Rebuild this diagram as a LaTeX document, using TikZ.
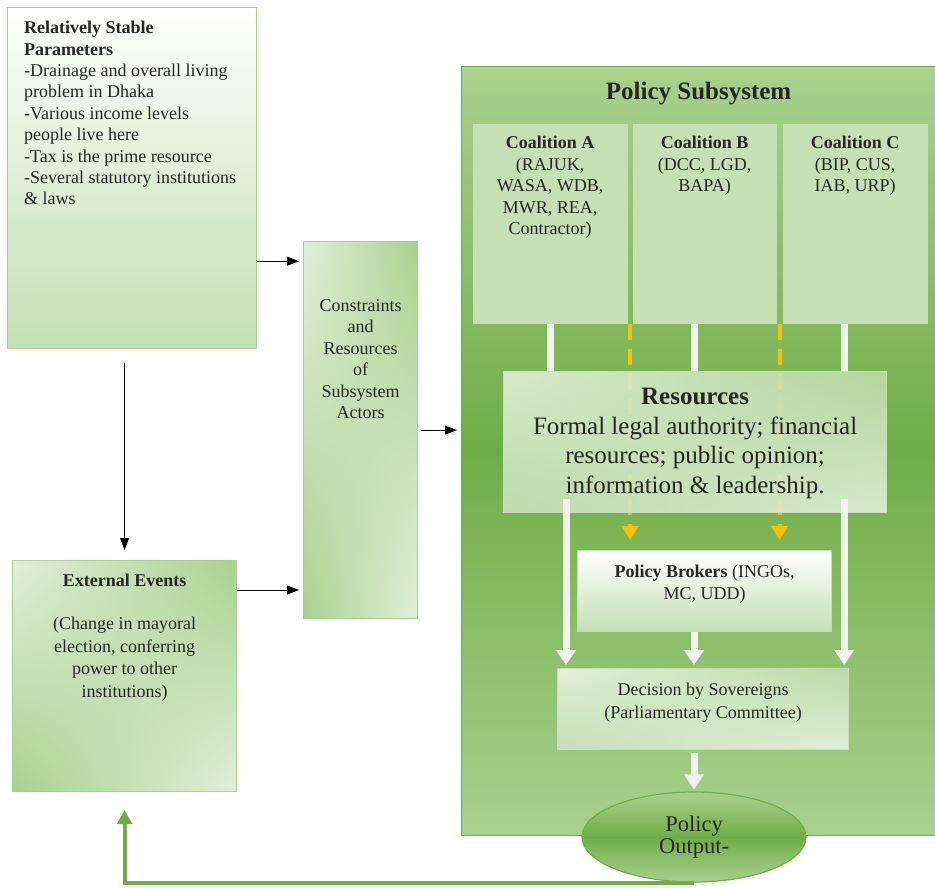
\documentclass[tikz,border=0pt]{standalone}
\usepackage{fontspec}
\setmainfont{Liberation Serif}
\usetikzlibrary{positioning,shapes.geometric,arrows.meta,calc,shadings}
\definecolor{palegreen}{HTML}{E2EFDA}
\definecolor{lightgreen}{HTML}{C5E0B4}
\definecolor{midgreen}{HTML}{A9D18E}
\definecolor{darkgreen}{HTML}{70AD47}
\definecolor{brokeryellow}{HTML}{FFC000}
\definecolor{flowwhite}{HTML}{F2F2F2}
\pgfdeclarelayer{back}
\pgfdeclarelayer{mid}
\pgfsetlayers{back,mid,main}

\begin{document}
\begin{tikzpicture}[x=1pt, y=-1pt,
	box/.style={draw=midgreen, line width=1.2pt, anchor=north west, inner sep=0pt},
	txt/.style={inner sep=0pt, text=black!85, font=\fontsize{18}{21.4}\selectfont},
	arr/.style={line width=0.9pt, -{Triangle[length=12pt,width=9pt]}, shorten >=4pt},
	warrow/.style={draw=flowwhite, line width=7pt, -{Triangle[length=15pt,width=19pt]}},
	wline/.style={draw=flowwhite, line width=7pt},
	yarrow/.style={draw=brokeryellow, line width=4pt, dash pattern=on 16pt off 9pt, -{Triangle[length=14pt,width=16pt]}}]
	\useasboundingbox (0,0) rectangle (935,887);
	
	%% left column
	\node[box, minimum width=249pt, minimum height=341pt, top color=white, bottom color=lightgreen, middle color=lightgreen!55] (stable) at (7,7) {};
	\node[txt, align=left, below right=14pt and 17pt of stable.north west] (stabletxt) {\textbf{Relatively Stable}\\\textbf{Parameters}\\-Drainage and overall living\\problem in Dhaka\\-Various income levels\\people live here\\-Tax is the prime resource\\-Several statutory institutions\\\& laws};
	
	\node[box, minimum width=224pt, minimum height=231pt, upper left=palegreen, upper right=midgreen, lower left=midgreen, lower right=palegreen] (ext) at (12,560) {};
	\node[txt, align=center, font=\fontsize{18}{22.7}\selectfont, below=14pt of ext.north] (exttxt) {\textbf{External Events}\\[20pt](Change in mayoral\\election, conferring\\power to other\\institutions)};
	
	\node[box, minimum width=114pt, minimum height=377pt, upper left=palegreen, upper right=midgreen, lower left=midgreen, lower right=palegreen] (cons) at (303,241) {};
	\node[txt, align=center, font=\fontsize{18}{21.5}\selectfont, below=58pt of cons.north] (constxt) {Constraints\\and\\Resources\\of\\Subsystem\\Actors};
	
	%% policy subsystem
	\begin{pgfonlayer}{back}
	\node[box, draw=darkgreen, minimum width=474pt, minimum height=769pt, top color=midgreen, bottom color=midgreen, middle color=darkgreen] (sub) at (461,66) {};
	\end{pgfonlayer}
	\node[txt, font=\fontsize{25}{28}\selectfont\bfseries, below=16pt of sub.north] (subtitle) {Policy Subsystem};
	
	\node[box, draw=none, fill=lightgreen, minimum width=155pt, minimum height=200pt] (coalA) at (472,123) {};
	\node[box, draw=none, fill=lightgreen, minimum width=144pt, minimum height=200pt] (coalB) at (632,123) {};
	\node[box, draw=none, fill=lightgreen, minimum width=145pt, minimum height=200pt] (coalC) at (782,123) {};
	\node[txt, align=center, font=\fontsize{18}{21.5}\selectfont, below=13pt of coalA.north] (coalAtxt) {\textbf{Coalition A}\\(RAJUK,\\WASA, WDB,\\MWR, REA,\\Contractor)};
	\node[txt, align=center, font=\fontsize{18}{21.5}\selectfont, below=13pt of coalB.north] (coalBtxt) {\textbf{Coalition B}\\(DCC, LGD,\\BAPA)};
	\node[txt, align=center, font=\fontsize{18}{21.5}\selectfont, below=13pt of coalC.north] (coalCtxt) {\textbf{Coalition C}\\(BIP, CUS,\\IAB, URP)};
	
	\node[box, draw=lightgreen, opacity=0.9, minimum width=383pt, minimum height=141pt, upper left=palegreen, upper right=midgreen!80, lower left=lightgreen, lower right=palegreen] (res) at (503,371) {};
	\node[txt, align=center, font=\fontsize{25}{29.5}\selectfont, below=17pt of res.north] (restxt) {\textbf{Resources}\\Formal legal authority; financial\\resources; public opinion;\\information \& leadership.};
	
	\node[box, draw=lightgreen, minimum width=254pt, minimum height=81pt, top color=white, bottom color=lightgreen] (brokers) at (577,550) {};
	\node[txt, align=center, font=\fontsize{18}{22}\selectfont, below=15pt of brokers.north] (brokerstxt) {\textbf{Policy Brokers} (INGOs,\\MC, UDD)};
	
	\node[box, draw=lightgreen, minimum width=291pt, minimum height=81pt, upper left=palegreen, upper right=midgreen!80, lower left=lightgreen, lower right=palegreen] (dec) at (557,668) {};
	\node[txt, align=center, font=\fontsize{18}{23}\selectfont, below=15pt of dec.north] (dectxt) {Decision by Sovereigns\\(Parliamentary Committee)};
	
	\node[ellipse, draw=darkgreen, line width=1.2pt, minimum width=224pt, minimum height=90pt, inner sep=0pt, top color=midgreen, bottom color=midgreen, middle color=darkgreen, align=center, text=black!85, font=\fontsize{22.5}{22}\selectfont] (out) at (694,837) {Policy\\Output-};
	
	\coordinate (colL) at ([xshift=9pt]dec.north west);
	\coordinate (colR) at ([xshift=-5pt]dec.north east);
	
	%% flows inside the subsystem
	\begin{pgfonlayer}{mid}
	\draw[wline] (coalA.south) -- (coalA.south |- res.north);
	\draw[wline] (out.north |- coalB.south) -- (out.north |- res.north);
	\draw[wline] (colR |- coalC.south) -- (colR |- res.north);
	\draw[yarrow] ($(coalA.south east)!0.5!(coalB.south west)$) coordinate (y1) -- (y1 |- brokers.north) [shorten >=10pt];
	\draw[yarrow] ($(coalB.south east)!0.5!(coalC.south west)$) coordinate (y2) -- (y2 |- brokers.north) [shorten >=10pt];
	\end{pgfonlayer}
	\draw[warrow, shorten >=3pt] ($(res.south -| colL)+(0,-14)$) -- (colL);
	\draw[warrow, shorten >=3pt] ($(res.south -| colR)+(0,-14)$) -- (colR);
	\draw[warrow, shorten >=3pt] (out.north |- brokers.south) -- (out.north |- dec.north);
	\draw[warrow, shorten >=2pt, shorten <=3pt] (out.north |- dec.south) -- (out.north);
	
	%% black connectors
	\draw[arr] ([yshift=88pt]stable.south east) coordinate (s1) -- (s1 -| cons.west);
	\draw[arr, shorten <=14pt, shorten >=10pt] (ext.north |- stable.south) -- (ext.north);
	\draw[arr] ([yshift=-30pt]ext.north east) coordinate (e1) -- (e1 -| cons.west);
	\draw[arr, shorten <=3pt] (cons.east) -- (cons.east -| sub.west);
	
	%% feedback
	\draw[darkgreen, line width=4pt, -{Triangle[length=14pt,width=15pt]}, shorten >=18pt] (out.south) -- (out.south -| ext.south) -- (ext.south);
\end{tikzpicture}
\end{document}
